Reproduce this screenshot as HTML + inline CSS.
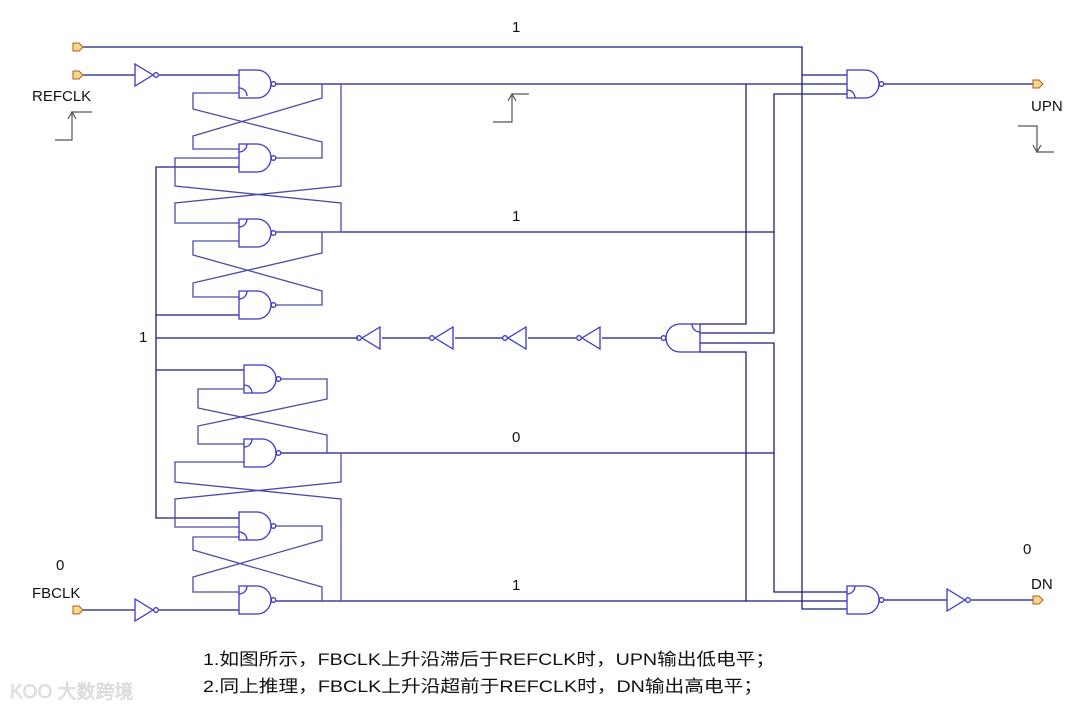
<!DOCTYPE html>
<html><head><meta charset="utf-8"><style>
html,body{margin:0;padding:0;background:#fff;width:1080px;height:709px;overflow:hidden}
svg{display:block}
</style></head><body>
<svg width="1080" height="709" viewBox="0 0 1080 709" xmlns="http://www.w3.org/2000/svg">
<g fill="none" stroke="#1c1c80" stroke-width="1.3">
<!-- top line -->
<polyline points="82,47 802,47 802,609 847,609"/>
<line x1="802" y1="75" x2="847" y2="75"/>
<!-- REFCLK -->
<line x1="82" y1="75" x2="135" y2="75"/>
<line x1="159" y1="75" x2="239" y2="75"/>
<!-- FBCLK -->
<line x1="82" y1="610" x2="135" y2="610"/>
<line x1="159" y1="610" x2="239" y2="610"/>
<!-- G1 out to right -->
<line x1="276" y1="84" x2="847" y2="84"/>
<polyline points="746,84 746,324 700,324"/>
<polyline points="700,333 774,333 774,94 847,94"/>
<polyline points="700,343 774,343 774,592 847,592"/>
<polyline points="700,352 746,352 746,601 847,601"/>
<!-- G3 out -->
<line x1="276" y1="232" x2="774" y2="232"/>
<!-- G6 out -->
<line x1="281" y1="453" x2="774" y2="453"/>
<!-- G8 out -->
<line x1="276" y1="601" x2="746" y2="601"/>
<!-- long vertical x=156 -->
<polyline points="239,167 156,167 156,518 239,518"/>
<line x1="156" y1="315" x2="239" y2="315"/>
<line x1="156" y1="370" x2="244" y2="370"/>
<line x1="156" y1="338" x2="358" y2="338"/>
<line x1="382" y1="338" x2="430" y2="338"/>
<line x1="455" y1="338" x2="503" y2="338"/>
<line x1="528" y1="338" x2="576" y2="338"/>
<line x1="602" y1="338" x2="661" y2="338"/>
<!-- DN out -->
<line x1="884" y1="600" x2="947" y2="600"/>
<line x1="971" y1="600" x2="1033" y2="600"/>
<line x1="884" y1="84" x2="1033" y2="84"/>
</g>
<!-- cross couplings -->
<g fill="none" stroke="#4c4ca8" stroke-width="1.3">
<polyline points="276,158 322,158 322,142 193,109 193,93 239,93"/>
<polyline points="322,84 322,98 193,136 193,149 239,149"/>
<polyline points="341,84 341,186 175,203 175,223 239,223"/>
<polyline points="276,232 341,232 341,203 175,186 175,158 239,158"/>
<polyline points="322,232 322,253 193,283 193,297 239,297"/>
<polyline points="276,305 322,305 322,291 193,255 193,241 239,241"/>
<polyline points="281,379 327,379 327,399 198,426 198,444 244,444"/>
<polyline points="327,453 327,435 198,408 198,389 244,389"/>
<polyline points="341,453 341,482 175,499 175,527 239,527"/>
<polyline points="341,601 341,499 175,482 175,462 244,462"/>
<polyline points="276,526 322,526 322,540 193,577 193,592 239,592"/>
<polyline points="322,601 322,587 193,550 193,537 239,537"/>
</g>
<!-- gates -->
<g fill="none" stroke="#3838c8" stroke-width="1.3">
<path d="M239 70h18a14 14 0 0 1 0 28h-18z"/><circle cx="273.5" cy="84" r="2.3"/>
<path d="M239 144h18a14 14 0 0 1 0 28h-18z"/><circle cx="273.5" cy="158" r="2.3"/>
<path d="M239 219h18a14 14 0 0 1 0 28h-18z"/><circle cx="273.5" cy="233" r="2.3"/>
<path d="M239 291h18a14 14 0 0 1 0 28h-18z"/><circle cx="273.5" cy="305" r="2.3"/>
<path d="M244 365h18a14 14 0 0 1 0 28h-18z"/><circle cx="278.5" cy="379" r="2.3"/>
<path d="M244 439h18a14 14 0 0 1 0 28h-18z"/><circle cx="278.5" cy="453" r="2.3"/>
<path d="M239 512h18a14 14 0 0 1 0 28h-18z"/><circle cx="273.5" cy="526" r="2.3"/>
<path d="M239 586h18a14 14 0 0 1 0 28h-18z"/><circle cx="273.5" cy="600" r="2.3"/>
<path d="M847 70h18a14 14 0 0 1 0 28h-18z"/><circle cx="881.5" cy="84" r="2.3"/>
<path d="M847 586h18a14 14 0 0 1 0 28h-18z"/><circle cx="881.5" cy="600" r="2.3"/>
<path d="M700 324h-20a14 14 0 0 0 0 28h20z"/><circle cx="663.5" cy="338" r="2.3"/>
<!-- and-marks -->
<path d="M239 88a8 8 0 0 1 8 8"/><path d="M239 152a8 8 0 0 0 8 -8"/>
<path d="M239 227a8 8 0 0 0 8 -8"/><path d="M239 299a8 8 0 0 0 8 -8"/>
<path d="M244 385a8 8 0 0 1 8 8"/><path d="M244 447a8 8 0 0 0 8 -8"/>
<path d="M239 532a8 8 0 0 1 8 8"/><path d="M239 594a8 8 0 0 0 8 -8"/>
<path d="M847 90a8 8 0 0 1 8 8"/><path d="M847 594a8 8 0 0 0 8 -8"/>
<path d="M700 332a8 8 0 0 1 -8 -8"/>
<!-- inverters right -->
<path d="M135 64L153 75L135 86z"/><circle cx="156" cy="75" r="2.3"/>
<path d="M135 599L153 610L135 621z"/><circle cx="156" cy="610" r="2.3"/>
<path d="M947 589L965 600L947 611z"/><circle cx="968" cy="600" r="2.3"/>
<!-- inverters left -->
<path d="M380 327L362 338L380 349z"/><circle cx="359" cy="338" r="2.3"/>
<path d="M453 327L435 338L453 349z"/><circle cx="432" cy="338" r="2.3"/>
<path d="M526 327L508 338L526 349z"/><circle cx="505" cy="338" r="2.3"/>
<path d="M600 327L582 338L600 349z"/><circle cx="579" cy="338" r="2.3"/>
</g>
<!-- pins -->
<g fill="#f5d98a" stroke="#b05a20" stroke-width="1">
<path d="M73 43h6l4 4l-4 4h-6z"/>
<path d="M73 71h6l4 4l-4 4h-6z"/>
<path d="M73 606h6l4 4l-4 4h-6z"/>
<path d="M1033 80h6l4 4l-4 4h-6z"/>
<path d="M1033 596h6l4 4l-4 4h-6z"/>
</g>
<!-- edge symbols -->
<g fill="none" stroke="#555" stroke-width="1.2">
<polyline points="55,140 72,140 72,112 92,112"/><polyline points="68,119 72,112 76,119"/>
<polyline points="493,122 512,122 512,94 529,94"/><polyline points="508,101 512,94 516,101"/>
<polyline points="1018,126 1037,126 1037,152 1054,152"/><polyline points="1033,145 1037,152 1041,145"/>
</g>
<g font-family="Liberation Sans, sans-serif" font-size="15" fill="#111">
<text x="512" y="32">1</text>
<text x="512" y="221">1</text>
<text x="512" y="442">0</text>
<text x="512" y="590">1</text>
<text x="139" y="342">1</text>
<text x="56" y="570">0</text>
<text x="1023" y="554">0</text>
<text x="32" y="101">REFCLK</text>
<text x="32" y="598">FBCLK</text>
<text x="1031" y="111">UPN</text>
<text x="1031" y="589">DN</text>
</g>
<g font-family="Liberation Sans, 'Noto Sans CJK SC', sans-serif" font-size="17" fill="#111">
<text x="203" y="665" textLength="572" lengthAdjust="spacingAndGlyphs">1.如图所示，FBCLK上升沿滞后于REFCLK时，UPN输出低电平；</text>
<text x="203" y="692" textLength="560" lengthAdjust="spacingAndGlyphs">2.同上推理，FBCLK上升沿超前于REFCLK时，DN输出高电平；</text>
</g>
<text x="10" y="698" font-family="Liberation Sans, 'Noto Sans CJK SC', sans-serif" font-size="19" fill="#e4e4e4" stroke="#cfcfcf" stroke-width="0.5">KOO 大数跨境</text>
</svg>
</body></html>
